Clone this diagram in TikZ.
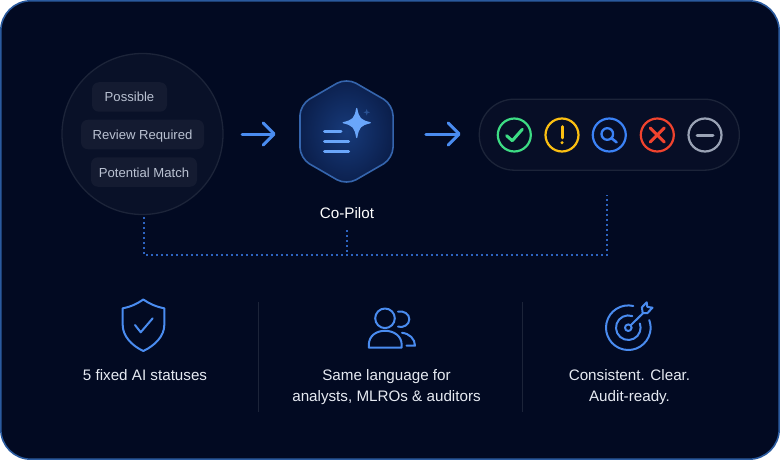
\documentclass[tikz,border=0pt]{standalone}
\usepackage{fontspec}
\setmainfont{Liberation Sans}
\usetikzlibrary{shapes.geometric, arrows.meta}

\definecolor{panelbg}{HTML}{020A22}
\definecolor{panelrim}{HTML}{2A5A9E}
\definecolor{accent}{HTML}{4A8CF0}
\definecolor{softrim}{HTML}{1C2439}
\definecolor{chipbg}{HTML}{141B31}
\definecolor{chiptext}{HTML}{BAC2D2}
\definecolor{bodytext}{HTML}{E6EAF2}
\definecolor{sparkle}{HTML}{6AA6FA}
\definecolor{hexinner}{HTML}{173A7A}
\definecolor{hexouter}{HTML}{0B1F4C}
\definecolor{okgreen}{HTML}{3DDC84}
\definecolor{warnyellow}{HTML}{FBBF12}
\definecolor{lookblue}{HTML}{3B82F6}
\definecolor{stopred}{HTML}{F0432E}
\definecolor{idlegrey}{HTML}{9AA3B5}

\begin{document}
\begin{tikzpicture}[
    x=1pt, y=-1pt,
    chip/.style={rectangle, fill=chipbg, rounded corners=7pt, minimum height=29.5pt, inner sep=0pt,
        text height=10pt, text depth=0pt, text=chiptext, font=\fontsize{13.1}{16}\selectfont},
    arrow/.style={accent, line width=3pt, line cap=round, line join=round,
        -{Straight Barb[length=11pt, width=22pt, round]}},
    dotlink/.style={draw=lookblue!75!panelbg, line width=1.2pt, dash pattern=on 2pt off 3pt},
    ring/.style={circle, draw, line width=2.2pt, minimum size=33pt, inner sep=0pt},
    glyph/.style={line width=3pt, line cap=round, line join=round},
    icon/.style={accent, line width=2pt, line cap=round, line join=round},
    caption/.style={align=center, text=bodytext, font=\fontsize{15.2}{21}\selectfont},
    divider/.style={draw=softrim, line width=1pt}
]

% Panel
\useasboundingbox (0,0) rectangle (780,460);
\fill[white] (0,0) rectangle (780,460);
\draw[fill=panelbg, draw=panelrim, line width=1.6pt, rounded corners=30pt] (0.8,0.8) rectangle (779.2,459.2);

% Nodes
\node[circle, draw=softrim, fill=chipbg!40!panelbg, line width=1.3pt, minimum size=161pt, inner sep=0pt] (intake) at (142.5,134) {};
\node[chip, minimum width=75pt] (possible) at (129.5,97) {Possible};
\node[chip, minimum width=123pt] (review) at (142.5,134.5) {Review Required};
\node[chip, minimum width=106pt] (match) at (144,172) {Potential Match};

\node[regular polygon, regular polygon sides=6, shape border rotate=30, minimum size=107.5pt, inner sep=0pt, rounded corners=11pt,
    draw=accent!72!black, line width=1.6pt, inner color=hexinner, outer color=hexouter] (copilot) at (346.5,131.5) {};
\node[caption, text=white] (copilotname) at (347,213) {Co-Pilot};

\node[rectangle, draw=softrim, fill=chipbg!25!panelbg, line width=1.3pt, rounded corners=35pt, minimum width=260pt, minimum height=71pt, inner sep=0pt] (statusbar) at (609.3,134.7) {};
\node[ring, draw=okgreen] (okring) at (514.3,135) {};
\node[ring, draw=warnyellow] (warnring) at (562,135) {};
\node[ring, draw=lookblue] (lookring) at (609.3,135) {};
\node[ring, draw=stopred] (stopring) at (657.3,135) {};
\node[ring, draw=idlegrey] (idlering) at (705,135) {};

\coordinate (busleft) at (144,255);
\coordinate (busmid) at (347,255);
\coordinate (busright) at (607,255);
\coordinate (intakedrop) at (144,217);
\coordinate (copilotdrop) at (347,230);
\coordinate (statusdrop) at (607,195);

\node[caption] (fixedtext) at (145,375) {5 fixed AI statuses};
\node[caption] (languagetext) at (386.5,387.5) {Same language for\\analysts, MLROs \& auditors};
\node[caption] (cleartext) at (629.5,387.5) {Consistent. Clear.\\Audit-ready.};

% Arrows
\draw[arrow, shorten <=18.5pt, shorten >=23.5pt] (intake.east) -- (intake.east -| copilot.west);
\draw[arrow, shorten <=32pt, shorten >=18pt] (intake.east -| copilot.east) -- (intake.east -| statusbar.west);

% Dotted links
\draw[dotlink] (intakedrop) -- (busleft) -- (busright) -- (statusdrop);
\draw[dotlink] (copilotdrop) -- (busmid);

% Co-Pilot glyph
\fill[sparkle, draw=sparkle, line width=1.2pt, line join=round] (356.7,108.5) .. controls (358.5,118.5) and (360.5,120.5) .. (370.2,122.7)
    .. controls (360.5,125) and (358.5,127) .. (356.7,137.5) .. controls (355,127) and (353,125) .. (343.2,122.7)
    .. controls (353,120.5) and (355,118.5) .. (356.7,108.5) -- cycle;
\fill[accent!55!panelbg] (366.7,109) .. controls (367,111.5) and (367.5,112) .. (370,112.3) .. controls (367.5,112.6) and (367,113) .. (366.7,115.6)
    .. controls (366.4,113) and (366,112.6) .. (363.4,112.3) .. controls (366,112) and (366.4,111.5) .. (366.7,109) -- cycle;
\foreach \ly/\lx in {131.7/341, 141.7/348.7, 151.7/348.7}
    \draw[sparkle, line width=3pt, line cap=round] (324.5,\ly) -- (\lx,\ly);

% Status glyphs
\draw[glyph, okgreen] (506.6,135.7) -- (512.3,140.7) -- (522.3,129.3);
\draw[glyph, warnyellow] (562,126.7) -- (562,137.8);
\fill[warnyellow] (562,142.7) circle[radius=1.7pt];
\draw[glyph, lookblue, line width=2.3pt] (607.3,134) circle[radius=5.8pt];
\draw[glyph, lookblue, line width=2.6pt] (611.6,138.3) -- (616.6,142.3);
\draw[glyph, stopred] (650.3,128) -- (664.3,142);
\draw[glyph, stopred] (664.3,128) -- (650.3,142);
\draw[glyph, idlegrey] (697,135) -- (713,135);

% Dividers
\draw[divider] (258,302) -- (258,412);
\draw[divider] (522,302) -- (522,412);

% Shield icon
\draw[icon] (143.3,299.5) .. controls (149,303.5) and (156,306.8) .. (164.3,308.3) -- (164.3,325)
    .. controls (164.3,336) and (155,345.5) .. (143.3,351) .. controls (131.6,345.5) and (122.7,336) .. (122.7,325)
    -- (122.7,308.3) .. controls (131,306.8) and (137.6,303.5) .. (143.3,299.5) -- cycle;
\draw[icon] (135,325) -- (140.7,332.3) -- (152.7,318.3);

% People icon
\draw[icon] (385,318.3) circle[radius=9.8pt];
\draw[icon] (368.8,347.7) -- (401.7,347.7) -- (401.7,345) .. controls (401.7,336) and (394,330.8) .. (385,330.8)
    .. controls (376,330.8) and (368.8,336) .. (368.8,345) -- cycle;
\draw[icon] (398,311.7) .. controls (404,310.5) and (409.3,314) .. (409.3,319.2) .. controls (409.3,324.5) and (404,328) .. (398,326.7);
\draw[icon] (402,332.8) .. controls (409.5,333.5) and (415,339) .. (415,345.7) -- (406.5,345.7);

% Target icon
\draw[icon] (628.3,327.7) ++(77:22.3pt) arc[start angle=77, end angle=380, radius=22.3pt];
\draw[icon] (628.3,327.7) ++(71:12.3pt) arc[start angle=71, end angle=380, radius=12.3pt];
\draw[icon] (628.3,327.7) circle[radius=3.3pt];
\draw[icon] (630.8,325.2) -- (643.5,312.7);
\draw[icon] (641.9,307.3) -- (646.7,302.3) -- (647.3,306.9) -- (652.5,307.7) -- (647.3,313.2) -- (642.7,313.2) -- cycle;

\end{tikzpicture}
\end{document}
